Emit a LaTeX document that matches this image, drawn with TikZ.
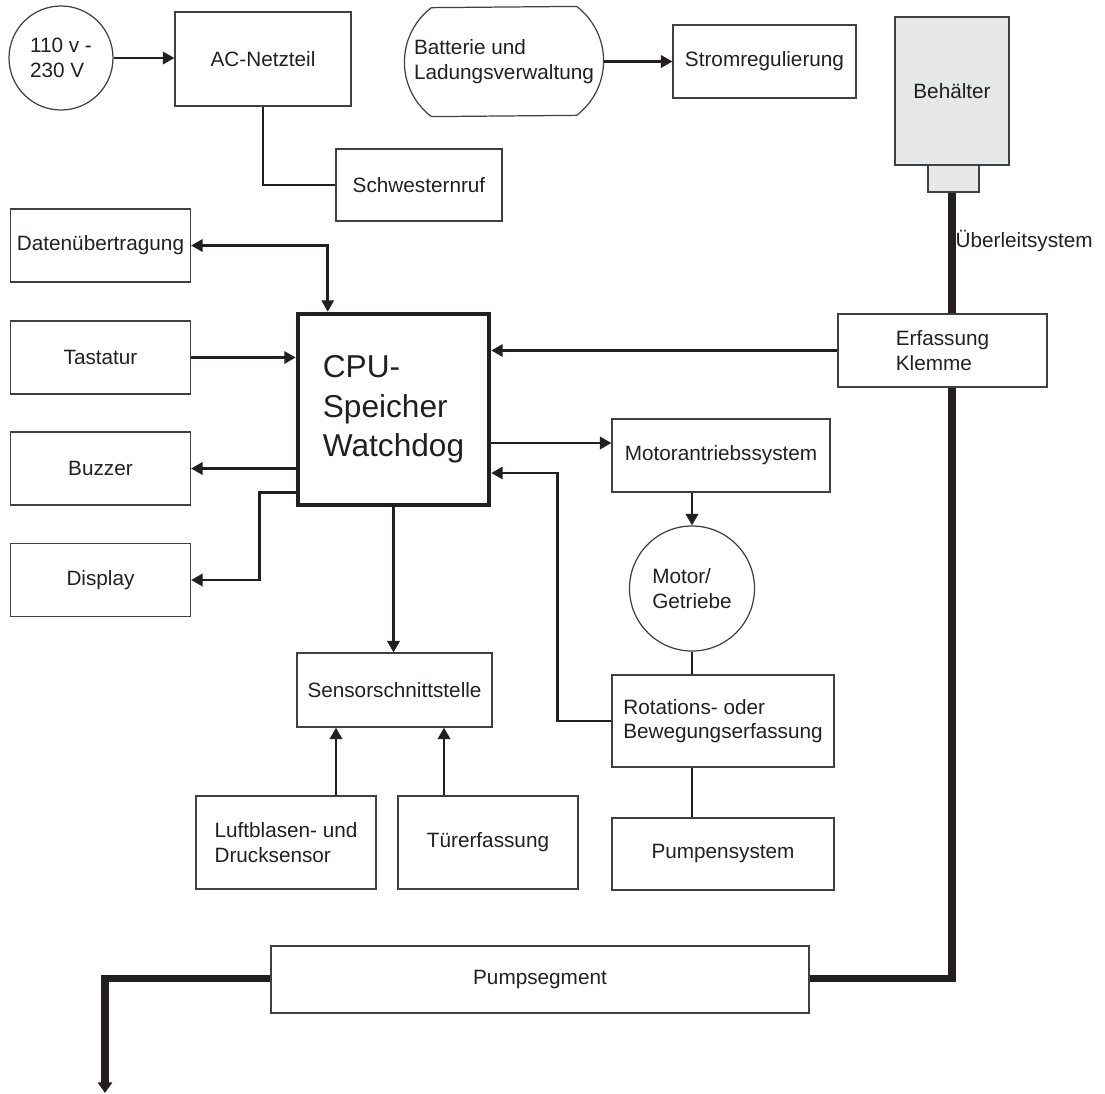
\documentclass[tikz,border=0pt]{standalone}
\usepackage{fontspec}
\setmainfont{Liberation Sans}
\usetikzlibrary{arrows.meta}
\definecolor{ink}{HTML}{231F20}
\definecolor{rahmen}{HTML}{404041}
\definecolor{grau}{HTML}{E6E7E8}

\begin{document}
\begin{tikzpicture}[x=0.02cm,y=-0.02cm,
	box/.style={draw=rahmen, line width=0.7pt, inner sep=0pt, align=center, text=ink, font=\fontsize{11.8}{14}\selectfont},
	boxsize/.style 2 args={minimum width=#1*0.02cm, minimum height=#2*0.02cm},
	pfeil/.style={draw=ink, line width=1.4pt, -{Triangle[length=6.5pt,width=7pt]}},
	pfeilzwei/.style={draw=ink, line width=1.4pt, {Triangle[length=6.5pt,width=7pt]}-{Triangle[length=6.5pt,width=7pt]}},
	linie/.style={draw=ink, line width=1.4pt},
	schlauch/.style={draw=ink, line width=4pt}]
		
		\useasboundingbox (0,0) rectangle (1105,1093);
		
		% obere Reihe
		\node[box, circle, boxsize={104}{104}, align=left] (netz) at (61,58) {110 v -\\230 V};
		\node[box, boxsize={176}{94}] (ac) at (263,59) {AC-Netzteil};
		\node[box, boxsize={166}{72}] (schw) at (419,185) {Schwesternruf};
		\node[box, draw=none, boxsize={198}{109}, align=left] (bat) at (504,61.5) {Batterie und\\Ladungsverwaltung};
		\draw[rahmen, line width=0.7pt] ([xshift=-0.54cm]bat.north east) arc (52.7:-52.7:1.37cm) -- ([xshift=0.54cm]bat.south west) arc (232.7:127.3:1.37cm) -- cycle;
		\node[box, boxsize={183}{73}] (strom) at (764.5,61.5) {Stromregulierung};
		\node[box, fill=grau, boxsize={114}{148}] (beh) at (952,91) {Behälter};
		\node[box, fill=grau, boxsize={51}{27}] (ansatz) at (953.5,178.5) {};
		
		% linke Spalte
		\foreach \name/\y/\txt in {daten/245.5/Datenübertragung, tast/357.5/Tastatur, buz/468.5/Buzzer, disp/580/Display}
		\node[box, boxsize={180}{73}] (\name) at (100.5,\y) {\txt};
		
		\node[box, draw=ink, line width=2.6pt, boxsize={191}{191}, align=left, font=\fontsize{18}{22.5}\selectfont] (cpu) at (393.5,409.5) {CPU-\\Speicher\\Watchdog};
		
		\node[box, boxsize={209}{73}, align=left] (erf) at (942.5,350.5) {Erfassung\\Klemme};
		\node[box, boxsize={218}{73}] (mad) at (721,455.5) {Motorantriebssystem};
		\node[box, circle, boxsize={125}{125}, align=left] (mot) at (692,588.5) {Motor/\\Getriebe};
		\node[box, boxsize={222}{92}, align=left] (rot) at (723,721) {Rotations- oder\\Bewegungserfassung};
		\node[box, boxsize={222}{72}] (pumps) at (723,854) {Pumpensystem};
		
		\node[box, boxsize={195}{74}] (sens) at (394.5,690) {Sensorschnittstelle};
		\node[box, boxsize={180}{93}, align=left] (luft) at (286,842.5) {Luftblasen- und\\Drucksensor};
		\node[box, boxsize={180}{93}] (tuer) at (488,842.5) {Türerfassung};
		
		\node[box, boxsize={538}{67}] (pseg) at (540,979.5) {Pumpsegment};
		\node[box, draw=none, anchor=west] (ueber) at (955,241) {Überleitsystem};
		
		\coordinate (m1) at (0,443);
		\coordinate (r1) at (0,473);
		\coordinate (s1) at (336,0);
		\coordinate (s2) at (444,0);
		\coordinate (t1) at (952,978);
		\coordinate (t2) at (105,978);
		\coordinate (tend) at (105,1093);
		
		% Verbindungen
		\draw[pfeil] (netz.east) -- (ac.west |- netz.east);
		\draw[pfeil] (bat.east) -- (strom.west);
		\draw[linie] (ac.south) |- (schw.west);
		
		\draw[pfeilzwei] (daten.east) -| ([xshift=0.64cm]cpu.north west);
		\draw[pfeil] (tast.east) -- (tast.east -| cpu.west);
		\draw[pfeil] (buz.east -| cpu.west) -- (buz.east);
		\draw[pfeil] ([yshift=8.5pt]cpu.south west) -- ++(-36,0) |- (disp.east);
		
		\draw[pfeil] (erf.west) -- (erf.west -| cpu.east);
		\draw[pfeil] (cpu.east |- m1) -- (mad.west |- m1);
		\draw[pfeil] (rot.west) -- ++(-54,0) |- (cpu.east |- r1);
		\draw[pfeil] (mad.south -| mot.north) -- (mot.north);
		\draw[linie] (mot.south) -- (mot.south |- rot.north);
		\draw[linie] (rot.south -| mot.south) -- (pumps.north -| mot.south);
		
		\draw[pfeil] (cpu.south) -- (cpu.south |- sens.north);
		\draw[pfeil] (luft.north -| s1) -- (sens.south -| s1);
		\draw[pfeil] (tuer.north -| s2) -- (sens.south -| s2);
		
		% Schlauch
		\draw[schlauch] (ansatz.south -| t1) -- (erf.north -| t1);
		\draw[schlauch] (erf.south -| t1) -- (t1) -- (pseg.east |- t1);
		\draw[schlauch, -{Triangle[length=6pt,width=8pt]}] (pseg.west |- t2) -- (t2) -- (tend);
		
	\end{tikzpicture}
\end{document}
